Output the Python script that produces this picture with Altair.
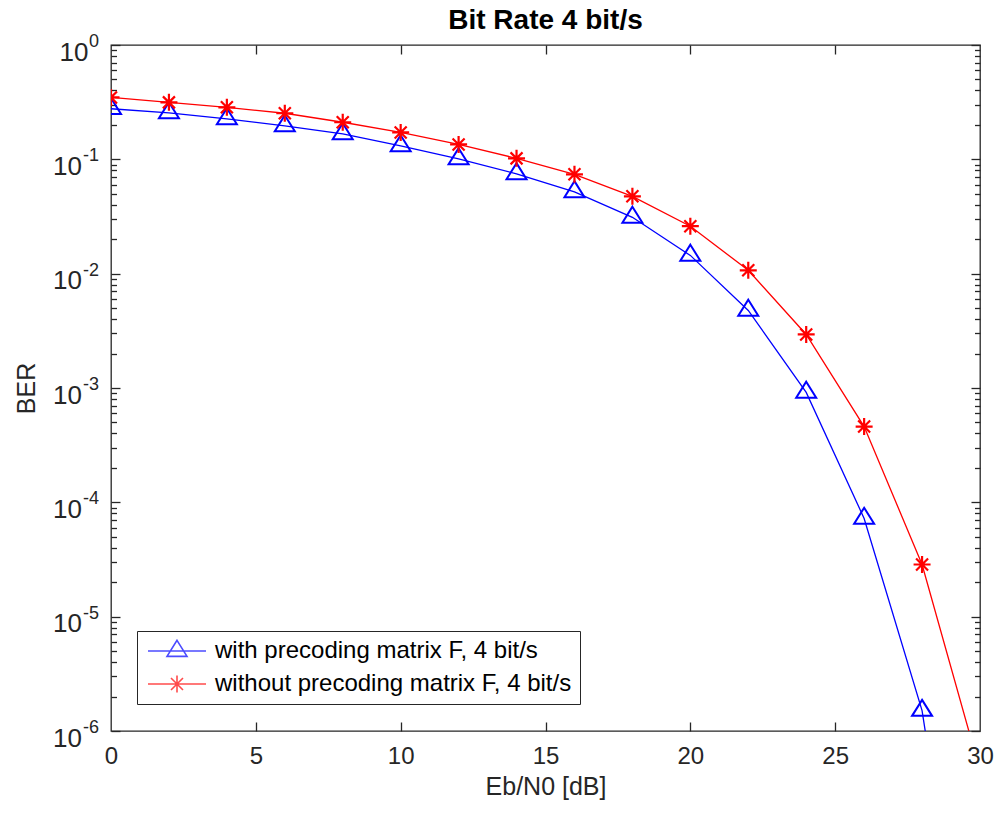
import altair as alt
import pandas as pd

# ---- data ----
ebn0 = [0, 2, 4, 6, 8, 10, 12, 14, 16, 18, 20, 22, 24, 26, 28, 30]
ber_with = [0.277, 0.255, 0.226, 0.196, 0.167, 0.131, 0.101, 0.0747, 0.0520,
            0.0311, 0.01445, 0.00477, 9.15e-4, 7.23e-5, 1.51e-6, 8e-10]
ber_without = [0.348, 0.315, 0.285, 0.253, 0.211, 0.172, 0.135, 0.102, 0.074,
               0.0475, 0.0260, 0.0107, 0.00294, 4.6e-4, 2.86e-5, 4.5e-7]
series_names = ["with precoding matrix F, 4 bit/s", "without precoding matrix F, 4 bit/s"]
x_ticks = [0, 5, 10, 15, 20, 25, 30]
x_inner_ticks = [5, 10, 15, 20, 25]
y_ticks = [1, 1e-1, 1e-2, 1e-3, 1e-4, 1e-5, 1e-6]
y_exponents = ["0", "-1", "-2", "-3", "-4", "-5", "-6"]
y_minor = [m * 10.0 ** e for e in range(-6, 0) for m in range(2, 10)]

df = pd.DataFrame({
    "x": ebn0 + ebn0,
    "ber": ber_with + ber_without,
    "series": [series_names[0]] * len(ebn0) + [series_names[1]] * len(ebn0),
})
df_with = df[df.series == series_names[0]]
df_without = df[df.series == series_names[1]]
df_exp = pd.DataFrame({"tick": y_ticks, "exp": y_exponents})

W, H = 869, 686
FONT = "Liberation Sans"
AX = "#262626"

xs = alt.Scale(domain=[0, 30], nice=False, zero=False)
ys = alt.Scale(type="log", domain=[1e-6, 1], nice=False)

main_x = alt.Axis(values=x_ticks, title="Eb/N0 [dB]", format="d", ticks=False, tickSize=0,
                  domain=False, grid=False, labelFlush=False, labelFontSize=24,
                  titleFontSize=25, labelPadding=13, titlePadding=6,
                  labelColor=AX, titleColor=AX, titleFontWeight="normal")
main_y = alt.Axis(values=y_ticks, title="BER", labelExpr="'10'", ticks=False, tickSize=0,
                  domain=False, grid=False, labelFlush=False, labelFontSize=26,
                  labelBaseline="middle", labelOffset=7,
                  labelPadding={"condition": {"test": "datum.value >= 0.5", "value": 23}, "value": 29.5},
                  titleFontSize=25, titlePadding=13,
                  labelColor=AX, titleColor=AX, titleFontWeight="normal")


def tick_axis(orient, offset, values, size):
    return alt.Axis(orient=orient, offset=offset, values=values, labels=False, title=None,
                    domain=False, grid=False, ticks=True, tickSize=size,
                    tickColor=AX, tickWidth=1.3)


TRI = "M0,-1.067L1,0.533L-1,0.533Z"
STAR = "M0,-0.85L0,0.85M-0.85,0L0.85,0M-0.6,-0.6L0.6,0.6M-0.6,0.6L0.6,-0.6"
TRI_LEG = "M-2.9,0L2.9,0M0,-1.067L1,0.533L-1,0.533Z"
STAR_LEG = "M-2.9,0L2.9,0M0,-0.85L0,0.85M-0.6,-0.6L0.6,0.6M-0.6,0.6L0.6,-0.6"

blue_line = alt.Chart(df_with).mark_line(color="#0000FF", strokeWidth=1.3, clip=True).encode(
    x=alt.X("x:Q", scale=xs, axis=main_x),
    y=alt.Y("ber:Q", scale=ys, axis=main_y),
)
blue_pts = alt.Chart(df_with).mark_point(shape=TRI, size=400, filled=False, strokeWidth=2,
                                         color="#0000FF", opacity=1, clip=True).encode(
    x=alt.X("x:Q", scale=xs, axis=tick_axis("top", -H, x_inner_ticks, 9)),
    y=alt.Y("ber:Q", scale=ys, axis=tick_axis("right", -W, y_ticks, 9)),
)
red_line = alt.Chart(df_without).mark_line(color="#FF0000", strokeWidth=1.3, clip=True).encode(
    x=alt.X("x:Q", scale=xs, axis=tick_axis("bottom", -H, x_inner_ticks, 9)),
    y=alt.Y("ber:Q", scale=ys, axis=tick_axis("left", -W, y_ticks, 9)),
)
red_pts = alt.Chart(df_without).mark_point(shape=STAR, size=400, filled=False, strokeWidth=2.2,
                                           color="#FF0000", opacity=1, clip=True).encode(
    x=alt.X("x:Q", scale=xs, axis=None),
    y=alt.Y("ber:Q", scale=ys, axis=tick_axis("right", -W, y_minor, 5.5)),
)

# superscript exponents of the y tick labels
exp_text = alt.Chart(df_exp).mark_text(align="right", baseline="middle", fontSize=18, font=FONT,
                                       color=AX, dy=-3).encode(
    x=alt.value(-12),
    y=alt.Y("tick:Q", scale=ys, axis=None),
    text="exp:N",
)

leg = alt.Legend(orient="none", legendX=26, legendY=586, title=None, labelFontSize=24,
                 labelFont=FONT, labelColor="#000000", strokeColor=AX, fillColor="white",
                 padding=8, symbolSize=400, symbolStrokeWidth=1.6, symbolOffset=20,
                 labelOffset=26, rowPadding=9, symbolFillColor="transparent", labelLimit=800)
legend_layer = alt.Chart(df).transform_filter("false").mark_point(filled=False, strokeWidth=1.6).encode(
    x=alt.X("x:Q", scale=xs, axis=None),
    y=alt.Y("ber:Q", scale=ys, axis=tick_axis("left", -W, y_minor, 5.5)),
    color=alt.Color("series:N", scale=alt.Scale(domain=series_names, range=["#0000FF", "#FF0000"]), legend=leg),
    shape=alt.Shape("series:N", scale=alt.Scale(domain=series_names, range=[TRI_LEG, STAR_LEG]), legend=leg),
)

chart = alt.layer(blue_line, blue_pts, red_line, red_pts, exp_text, legend_layer).resolve_axis(
    x="independent", y="independent"
).properties(
    width=W, height=H,
    title=alt.TitleParams("Bit Rate 4 bit/s", fontSize=28, fontWeight="bold", font=FONT,
                          color="#000000", anchor="middle", offset=12, dy=14),
    autosize=alt.AutoSizeParams(type="none"),
    padding={"left": 111, "top": 45, "right": 19, "bottom": 88},
    background="white",
).configure_view(stroke=AX, strokeWidth=1.3).configure_axis(
    labelFont=FONT, titleFont=FONT
)

chart.save("out.html", embed_options={"renderer": "svg", "actions": False})
